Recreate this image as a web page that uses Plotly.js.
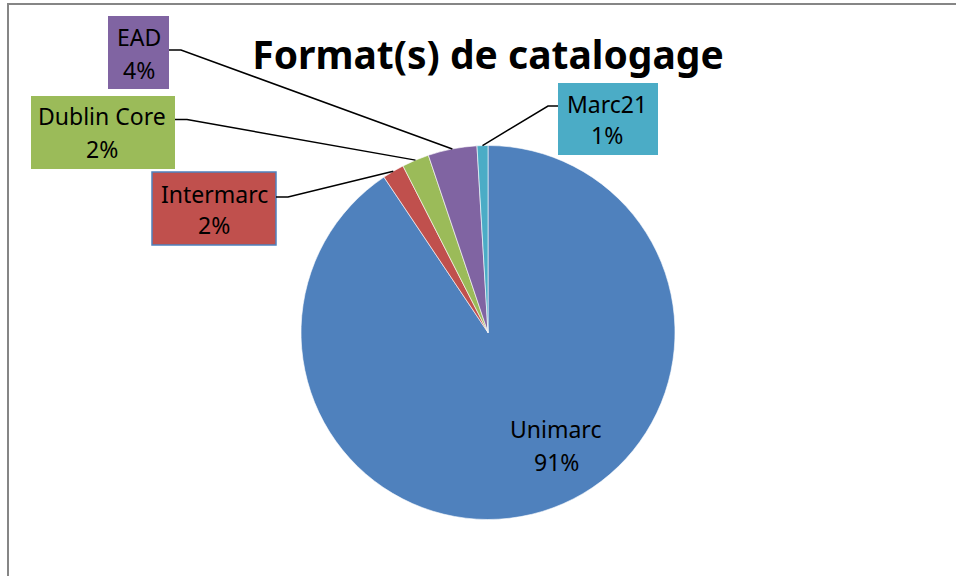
<!DOCTYPE html>
<html>
<head>
<meta charset="utf-8">
<script src="https://cdn.plot.ly/plotly-3.0.1.min.js"></script>
<style>html,body{margin:0;padding:0;background:#fff}#chart{width:956px;height:576px}</style>
</head>
<body>
<div id="chart"></div>
<script>
// ---- data ----
const formats = ["Unimarc", "Intermarc", "Dublin Core", "EAD", "Marc21"];
const counts = [193, 4, 5, 9, 2];
const sliceColors = ["#4F81BD", "#C0504D", "#9BBB59", "#8064A2", "#4BACC6"];
const chartTitle = "Format(s) de catalogage";

// ---- layout geometry (pixels) ----
const W = 956, H = 576;
const cx = 488, cy = 332.5, R = 187;
const px = x => x / W;
const py = y => 1 - y / H;
const FONT = "Noto Sans, Open Sans, sans-serif";
const LABEL_SIZE = 23;

const total = counts.reduce((a, b) => a + b, 0);
const pct = counts.map(v => Math.round(v / total * 100) + "%");

// mid angle (degrees clockwise from 12 o'clock) of each slice
const mids = [];
let cum = 0;
counts.forEach(v => { const a = v / total * 360; mids.push(cum + a / 2); cum += a; });
const edgePt = i => {
  const t = mids[i] * Math.PI / 180;
  return [cx + R * Math.sin(t), cy - R * Math.cos(t)];
};

// label boxes: [left, top, right, bottom], line centres, leader stub
const boxes = {
  1: {box: [152, 172, 276, 245], tx: 214, l1: 193.5, l2: 225, stub: [[276, 197], [288, 197]], border: "#4F81BD"},
  2: {box: [31, 96, 175, 169], tx: 102, l1: 116.5, l2: 148.5, stub: [[175, 119.5], [187, 119.5]]},
  3: {box: [108, 16, 169, 89], tx: 138.5, l1: 36.5, l2: 70, stub: [[169, 50], [181, 50]]},
  4: {box: [558, 83, 658, 155], tx: 607, l1: 103.5, l2: 135, stub: [[558, 106], [548, 106]]}
};

const shapes = [];
const annotations = [];

// chart border (top and left visible)
shapes.push({type: "rect", xref: "paper", yref: "paper", x0: px(8), x1: px(990), y0: py(4), y1: py(600),
  line: {color: "#868686", width: 2}, fillcolor: "rgba(0,0,0,0)", layer: "below"});

Object.keys(boxes).forEach(k => {
  const i = +k, b = boxes[k];
  shapes.push({type: "rect", xref: "paper", yref: "paper",
    x0: px(b.box[0]), x1: px(b.box[2]), y0: py(b.box[3]), y1: py(b.box[1]),
    fillcolor: sliceColors[i], line: {color: b.border || sliceColors[i], width: b.border ? 1.5 : 0}});
  const e = edgePt(i);
  const path = `M ${px(b.stub[0][0])},${py(b.stub[0][1])} L ${px(b.stub[1][0])},${py(b.stub[1][1])} L ${px(e[0])},${py(e[1])}`;
  shapes.push({type: "path", xref: "paper", yref: "paper", path: path, line: {color: "#000", width: 1.5}});
  annotations.push({xref: "paper", yref: "paper", x: px(b.tx), y: py(b.l1), xanchor: "center", yanchor: "middle",
    text: formats[i], showarrow: false, font: {family: FONT, size: LABEL_SIZE, color: "#000"}});
  annotations.push({xref: "paper", yref: "paper", x: px(b.tx), y: py(b.l2), xanchor: "center", yanchor: "middle",
    text: pct[i], showarrow: false, font: {family: FONT, size: LABEL_SIZE, color: "#000"}});
});

// inside label for the big slice
annotations.push({xref: "paper", yref: "paper", x: px(555), y: py(428.5), xanchor: "center", yanchor: "middle",
  text: formats[0], showarrow: false, font: {family: FONT, size: LABEL_SIZE, color: "#000"}});
annotations.push({xref: "paper", yref: "paper", x: px(556), y: py(461.5), xanchor: "center", yanchor: "middle",
  text: pct[0], showarrow: false, font: {family: FONT, size: LABEL_SIZE, color: "#000"}});

const trace = {
  type: "pie",
  labels: formats,
  values: counts,
  sort: false,
  direction: "clockwise",
  rotation: 0,
  textinfo: "none",
  hoverinfo: "none",
  marker: {colors: sliceColors, line: {color: "#ffffff", width: 0.6}},
  domain: {x: [px(cx - R), px(cx + R)], y: [py(cy + R), py(cy - R)]},
  showlegend: false
};

const layout = {
  width: W, height: H,
  margin: {l: 0, r: 0, t: 0, b: 0},
  paper_bgcolor: "#ffffff",
  showlegend: false,
  title: {text: "<b>" + chartTitle + "</b>", x: px(488), xanchor: "center", xref: "paper",
    y: py(55), yanchor: "middle", yref: "container",
    font: {family: FONT, size: 39, color: "#000"}},
  shapes: shapes,
  annotations: annotations
};

Plotly.newPlot("chart", [trace], layout, {staticPlot: true, displayModeBar: false});
</script>
</body>
</html>
